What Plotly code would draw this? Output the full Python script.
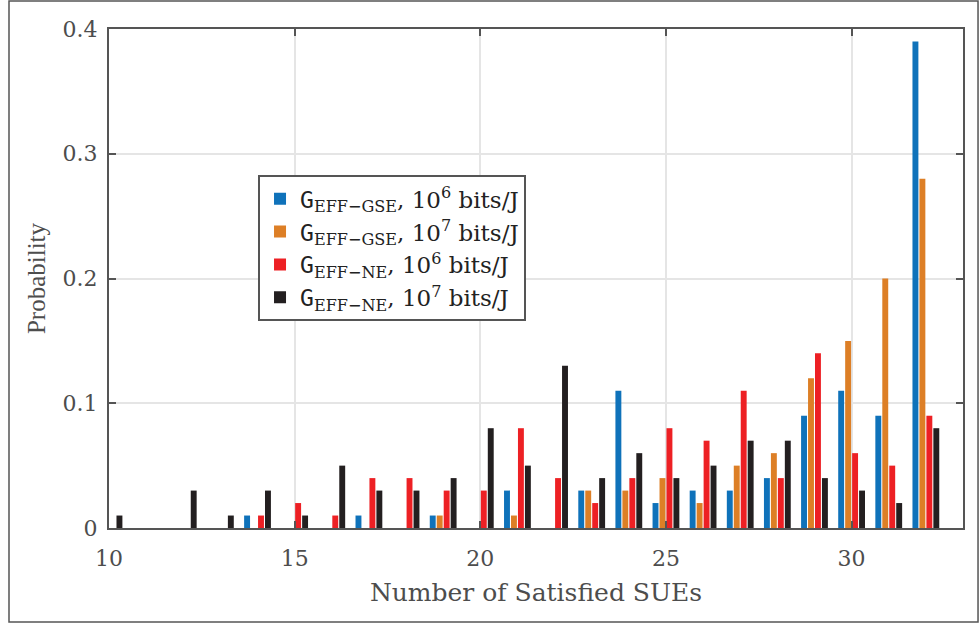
import plotly.graph_objects as go

x_vals = list(range(10, 33))
gse_1e6 = [0, 0, 0, 0, 0.01, 0, 0, 0.01, 0, 0.01, 0, 0.03, 0, 0.03, 0.11, 0.02, 0.03, 0.03, 0.04, 0.09, 0.11, 0.09, 0.39]
gse_1e7 = [0, 0, 0, 0, 0, 0, 0, 0, 0, 0.01, 0, 0.01, 0, 0.03, 0.03, 0.04, 0.02, 0.05, 0.06, 0.12, 0.15, 0.20, 0.28]
ne_1e6 = [0, 0, 0, 0, 0.01, 0.02, 0.01, 0.04, 0.04, 0.03, 0.03, 0.08, 0.04, 0.02, 0.04, 0.08, 0.07, 0.11, 0.04, 0.14, 0.06, 0.05, 0.09]
ne_1e7 = [0.01, 0, 0.03, 0.01, 0.03, 0.01, 0.05, 0.03, 0.03, 0.04, 0.08, 0.05, 0.13, 0.04, 0.06, 0.04, 0.05, 0.07, 0.07, 0.04, 0.03, 0.02, 0.08]

G = "<span style='font-family:\"DejaVu Sans Mono\"'>G</span>"
names = [
    G + "<sub>EFF−GSE</sub>, 10<sup>6</sup> bits/J",
    G + "<sub>EFF−GSE</sub>, 10<sup>7</sup> bits/J",
    G + "<sub>EFF−NE</sub>, 10<sup>6</sup> bits/J",
    G + "<sub>EFF−NE</sub>, 10<sup>7</sup> bits/J",
]
colors = ["#0F72BA", "#DD7F26", "#ED2024", "#231F20"]
series = [gse_1e6, gse_1e7, ne_1e6, ne_1e7]

fig = go.Figure()
for nm, col, ys in zip(names, colors, series):
    fig.add_trace(go.Bar(x=x_vals, y=ys, name=nm, marker=dict(color=col, line=dict(width=0))))

serif_wide = "DejaVu Serif"
axis_common = dict(
    showline=True, linecolor="#555555", linewidth=2, mirror="ticks",
    ticks="inside", ticklen=7, tickwidth=2, tickcolor="#555555",
    showgrid=True, gridcolor="#E5E5E5", gridwidth=2,
    zeroline=False,
    tickfont=dict(family=serif_wide, size=22, color="#4D4D4D"),
)

fig.update_layout(
    width=980, height=625,
    paper_bgcolor="white", plot_bgcolor="white",
    margin=dict(l=109, r=17, t=29, b=97),
    barmode="group", bargap=0.25, bargroupgap=0.15,
    xaxis=dict(range=[10, 33], tickvals=[10, 15, 20, 25, 30],
               title=dict(text="Number of Satisfied SUEs", standoff=13,
                          font=dict(family=serif_wide, size=25, color="#4D4D4D")),
               ticklabelstandoff=10, **axis_common),
    yaxis=dict(range=[0, 0.4], tickvals=[0, 0.1, 0.2, 0.3, 0.4], ticktext=["0", "0.1", "0.2", "0.3", "0.4"],
               title=dict(text="Probability", standoff=10,
                          font=dict(family="Liberation Serif", size=25, color="#4D4D4D")),
               ticklabelstandoff=5, **axis_common),
    legend=dict(x=0.1745, y=0.707, xanchor="left", yanchor="top",
                bgcolor="white", bordercolor="#555555", borderwidth=2,
                font=dict(family=serif_wide, size=23, color="#222222"),
                tracegroupgap=0, itemwidth=30),
    shapes=[dict(type="rect", xref="paper", yref="paper",
                 x0=-0.1171, x1=1.0176, y0=-0.1884, y1=1.0561,
                 line=dict(color="#555555", width=1.5), layer="below")],
)

fig.write_html("out.html", config={"displayModeBar": False},
               post_script="document.body.style.margin='0';document.body.style.overflow='hidden';")
